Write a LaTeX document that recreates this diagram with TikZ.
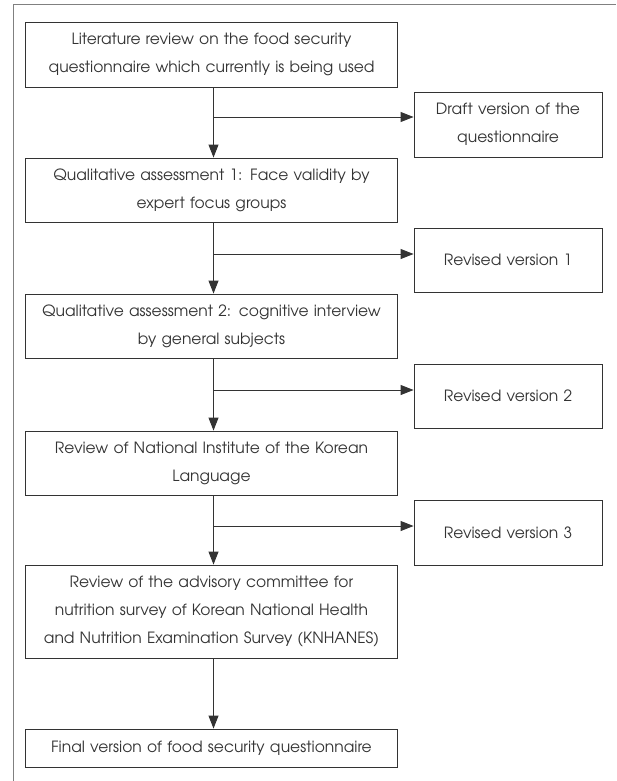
\documentclass[tikz,border=0pt]{standalone}
\usepackage{fontspec}
\setmainfont{texgyreadventor-regular.otf}
\usetikzlibrary{arrows.meta}
\definecolor{ink}{HTML}{333333}
\definecolor{framec}{HTML}{808080}
\begin{document}
\begin{tikzpicture}[x=1pt,y=-1pt,
  every node/.style={font=\fontsize{15.5}{28}\selectfont, text=ink},
  lbox/.style={draw=ink, line width=0.9pt, minimum width=372pt, text width=370pt, align=center, inner sep=0pt},
  rbox/.style={draw=ink, line width=0.9pt, minimum width=188pt, text width=184pt, align=center, inner sep=0pt},
  link/.style={draw=ink, line width=0.9pt, -{Triangle[length=13pt,width=10pt]}}]
\useasboundingbox (0,0) rectangle (616,781);
\draw[framec, line width=1pt] (13,781) -- (13,5) -- (616,5);

\node[lbox, minimum height=65pt] (b1) at (211.5,54.5) {Literature review on the food security\\questionnaire which currently is being used};
\node[rbox, minimum height=65pt] (d1) at (508,124.5) {Draft version of the\\questionnaire};
\node[lbox, minimum height=64pt] (b2) at (211.5,190) {Qualitative assessment 1: Face validity by\\expert focus groups};
\node[rbox, minimum height=64pt] (d2) at (508,260) {Revised version 1};
\node[lbox, minimum height=64pt] (b3) at (211.5,326) {Qualitative assessment 2: cognitive interview\\by general subjects};
\node[rbox, minimum height=64pt] (d3) at (508,396) {Revised version 2};
\node[lbox, minimum height=64pt] (b4) at (211.5,463) {Review of National Institute of the Korean\\Language};
\node[rbox, minimum height=65pt] (d4) at (508,532.5) {Revised version 3};
\node[lbox, minimum height=93pt] (b5) at (211.5,611.5) {Review of the advisory committee for\\nutrition survey of Korean National Health\\and Nutrition Examination Survey (KNHANES)};
\node[lbox, minimum height=38pt] (b6) at (211.5,748) {Final version of food security questionnaire};

\coordinate (j1) at (213.5,117);
\coordinate (j2) at (213.5,254);
\coordinate (j3) at (213.5,390);
\coordinate (j4) at (213.5,526);

\draw[link] (b1.south -| j1) -- (b2.north -| j1);
\draw[link] (b2.south -| j1) -- (b3.north -| j1);
\draw[link] (b3.south -| j1) -- (b4.north -| j1);
\draw[link] (b4.south -| j1) -- (b5.north -| j1);
\draw[link] (b5.south -| j1) -- (b6.north -| j1);
\draw[link] (j1) -- (j1 -| d1.west);
\draw[link] (j2) -- (j2 -| d2.west);
\draw[link] (j3) -- (j3 -| d3.west);
\draw[link] (j4) -- (j4 -| d4.west);
\end{tikzpicture}
\end{document}
